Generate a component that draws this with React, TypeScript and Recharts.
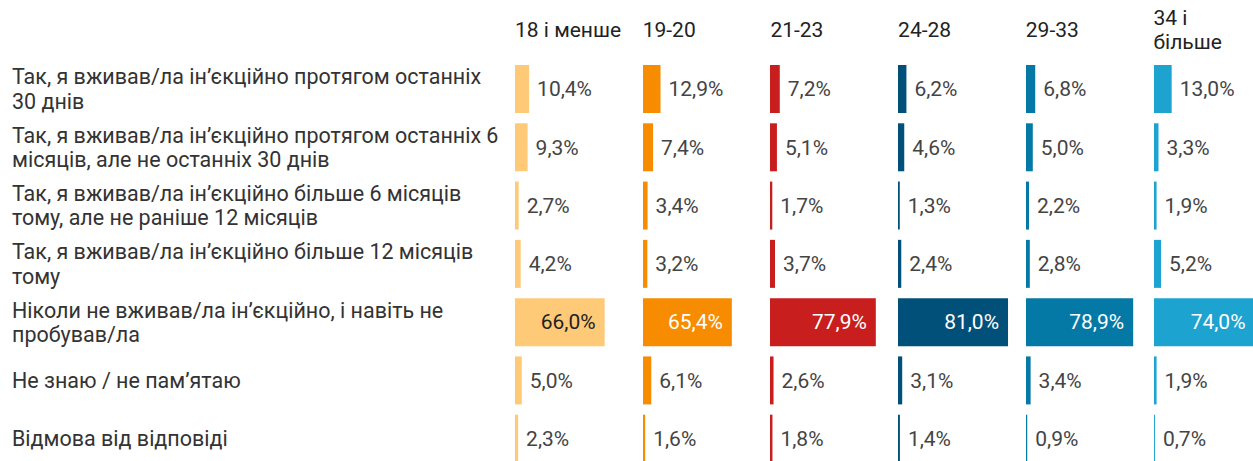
import React from 'react';
import { BarChart, Bar, XAxis, YAxis, LabelList } from 'recharts';

const ageGroups = ['18 і менше', '19-20', '21-23', '24-28', '29-33', '34 і\nбільше'];

const categories = [
  'Так, я вживав/ла ін’єкційно протягом останніх\n30 днів',
  'Так, я вживав/ла ін’єкційно протягом останніх 6\nмісяців, але не останніх 30 днів',
  'Так, я вживав/ла ін’єкційно більше 6 місяців\nтому, але не раніше 12 місяців',
  'Так, я вживав/ла ін’єкційно більше 12 місяців\nтому',
  'Ніколи не вживав/ла ін’єкційно, і навіть не\nпробував/ла',
  'Не знаю / не пам’ятаю',
  'Відмова від відповіді',
];

const age18 = [10.4, 9.3, 2.7, 4.2, 66.0, 5.0, 2.3];
const age19 = [12.9, 7.4, 3.4, 3.2, 65.4, 6.1, 1.6];
const age21 = [7.2, 5.1, 1.7, 3.7, 77.9, 2.6, 1.8];
const age24 = [6.2, 4.6, 1.3, 2.4, 81.0, 3.1, 1.4];
const age29 = [6.8, 5.0, 2.2, 2.8, 78.9, 3.4, 0.9];
const age34 = [13.0, 3.3, 1.9, 5.2, 74.0, 1.9, 0.7];

const groupValues = [age18, age19, age21, age24, age29, age34];
const colors = ['#FECA78', '#F88C00', '#C81E1E', '#00507A', '#0479A5', '#1CA3D0'];
const insideColors = ['#222222', '#ffffff', '#ffffff', '#ffffff', '#ffffff', '#ffffff'];

const FONT = 'Roboto, "Noto Sans", sans-serif';
const LABEL_W = 515;
const COL_W = 127.7;
const CHART_H = 468;
const TOP = 60;

const fmt = (v: number) => v.toFixed(1).replace('.', ',') + '%';

const CategoryTick = (props: any) => {
  const { y, payload } = props;
  const lines = String(payload.value).split('\n');
  const lh = 24.5;
  return (
    <text x={12} y={y} textAnchor="start" fontFamily={FONT} fontSize={21.5} fill="#333">
      {lines.map((line, i) => (
        <tspan key={i} x={12} y={y + (i - (lines.length - 1) / 2) * lh} dy="0.35em">
          {line}
        </tspan>
      ))}
    </text>
  );
};

const makeValueLabel = (insideFill: string) => (props: any) => {
  const { x, y, width, height, value } = props;
  const inside = value > 40;
  return (
    <text
      x={inside ? x + width - 9 : x + width + 8}
      y={y + height / 2}
      dy="0.35em"
      textAnchor={inside ? 'end' : 'start'}
      fontFamily={FONT}
      fontSize={21}
      fill={inside ? insideFill : '#444'}
    >
      {fmt(value)}
    </text>
  );
};

const Column: React.FC<{ idx: number }> = ({ idx }) => {
  const first = idx === 0;
  const data = categories.map((cat, i) => ({ cat, v: groupValues[idx][i] }));
  const left = first ? 0 : LABEL_W + idx * COL_W;
  const width = first ? LABEL_W + COL_W : COL_W;
  return (
    <div style={{ position: 'absolute', left, top: 0 }}>
      <BarChart
        layout="vertical"
        width={width}
        height={CHART_H}
        data={data}
        margin={{ top: TOP, right: 0, bottom: 0, left: 0 }}
      >
        <XAxis type="number" domain={[0, 94]} hide />
        <YAxis
          type="category"
          dataKey="cat"
          hide={!first}
          width={LABEL_W}
          axisLine={false}
          tickLine={false}
          tick={<CategoryTick />}
          interval={0}
        />
        <Bar dataKey="v" fill={colors[idx]} barSize={48} isAnimationActive={false}>
          <LabelList dataKey="v" content={makeValueLabel(insideColors[idx])} />
        </Bar>
      </BarChart>
    </div>
  );
};

export default function App() {
  return (
    <div
      style={{
        position: 'fixed',
        left: 0,
        top: 0,
        width: 1253,
        height: 461,
        overflow: 'hidden',
        background: '#fff',
        fontFamily: FONT,
      }}
    >
      {ageGroups.map((g, i) => (
        <div
          key={g}
          style={{
            position: 'absolute',
            left: LABEL_W + i * COL_W,
            top: 6,
            height: 48,
            display: 'flex',
            alignItems: 'center',
            fontSize: 21,
            lineHeight: '24px',
            color: '#222',
            whiteSpace: 'pre',
          }}
        >
          {g}
        </div>
      ))}
      {ageGroups.map((g, i) => (
        <Column key={g} idx={i} />
      ))}
    </div>
  );
}
